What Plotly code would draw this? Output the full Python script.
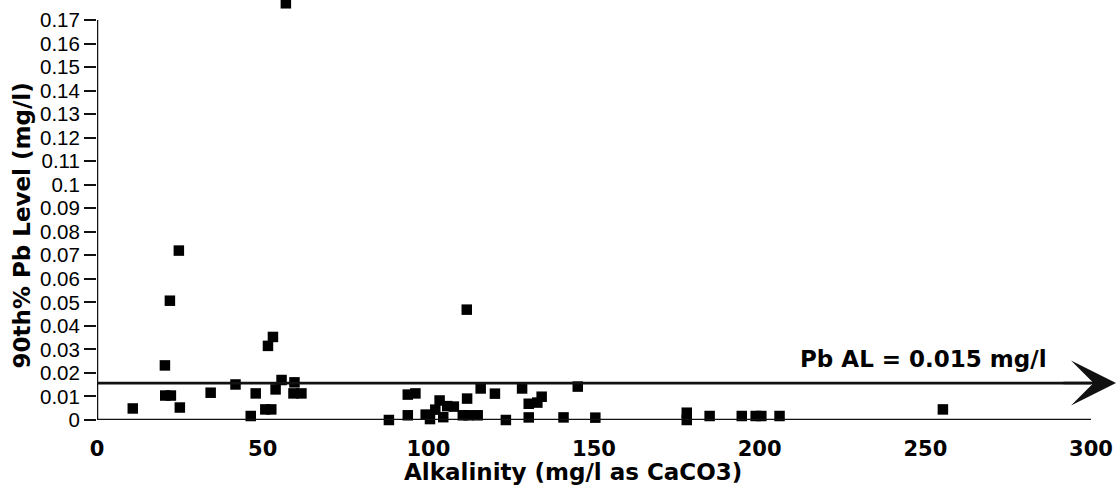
import plotly.graph_objects as go

# ---- data ----
alkalinity = [
    10.8, 20.5, 20.6, 22.3, 25.0, 34.3, 41.8, 46.4, 47.9, 50.8, 52.6, 51.6, 53.1,
    53.9, 55.7, 59.6, 59.3, 61.7, 24.7, 22.0, 57.0,
    111.6, 88.1, 93.8, 96.1, 93.8, 99.2, 100.5, 102.1, 103.4, 104.5, 105.7, 107.7,
    110.4, 112.1, 114.9, 111.7, 115.8, 120.1, 123.4, 128.3, 130.3, 132.9, 134.2,
    130.3, 140.8, 145.1, 150.4,
    178.0, 178.0, 184.9, 194.6, 198.8, 200.5, 206.0, 255.3,
]
pb_90th = [
    0.0049, 0.0232, 0.0104, 0.0104, 0.0053, 0.0116, 0.0151, 0.0017, 0.0113, 0.0045,
    0.0045, 0.0315, 0.0353, 0.0130, 0.0170, 0.0160, 0.0113, 0.0113, 0.0720, 0.0507,
    0.1771,
    0.0469, 0.0, 0.0108, 0.0113, 0.0020, 0.0023, 0.0004, 0.0044, 0.0083, 0.0012,
    0.0059, 0.0057, 0.0020, 0.0020, 0.0020, 0.0091, 0.0134, 0.0112, 0.0, 0.0134,
    0.0069, 0.0074, 0.0099, 0.0011, 0.0011, 0.0142, 0.0010,
    0.0031, 0.0, 0.0017, 0.0017, 0.0017, 0.0017, 0.0017, 0.0045,
]

x_tick_vals = [0, 50, 100, 150, 200, 250, 300]
x_tick_text = ["0", "50", "100", "150", "200", "250", "300"]
y_tick_vals = [0, 0.01, 0.02, 0.03, 0.04, 0.05, 0.06, 0.07, 0.08, 0.09,
               0.10, 0.11, 0.12, 0.13, 0.14, 0.15, 0.16, 0.17]
y_tick_text = ["0", "0.01", "0.02", "0.03", "0.04", "0.05", "0.06", "0.07", "0.08",
               "0.09", "0.1", "0.11", "0.12", "0.13", "0.14", "0.15", "0.16", "0.17"]

action_level_drawn = 0.0157
action_level_label = "Pb AL = 0.015 mg/l"
x_title = "Alkalinity (mg/l as CaCO3)"
y_title = "90th% Pb Level (mg/l)"

X_RANGE = [0, 300]
Y_RANGE = [0, 0.1785]

INK = "#111111"
TICK = "#333333"
BOLD = "DejaVu Sans"


def bare_axis(**kw):
    base = dict(showticklabels=False, showline=False, showgrid=False, zeroline=False,
                tickmode="array")
    base.update(kw)
    return base


fig = go.Figure()
fig.add_trace(go.Scatter(
    x=alkalinity, y=pb_90th, mode="markers",
    marker=dict(symbol="square", size=10.5, color="black", line=dict(width=0)),
    cliponaxis=False, showlegend=False, hoverinfo="x+y",
))

fig.update_layout(
    width=1117, height=491,
    margin=dict(l=97, r=26, t=0, b=71),
    paper_bgcolor="white", plot_bgcolor="white",
    showlegend=False,
    xaxis=dict(
        range=X_RANGE, tickmode="array", tickvals=x_tick_vals, ticktext=x_tick_text,
        ticks="outside", ticklen=10, tickwidth=1.5, tickcolor="rgba(0,0,0,0)",
        showline=False, showgrid=False, zeroline=False,
        tickfont=dict(family=BOLD, size=21, color="black", weight="bold"),
    ),
    xaxis2=bare_axis(range=X_RANGE, overlaying="x", anchor="y", side="bottom",
                     tickvals=x_tick_vals[1:], ticks="outside", ticklen=10,
                     tickwidth=1.5, tickcolor=TICK),
    xaxis3=bare_axis(range=X_RANGE, overlaying="x", anchor="y", side="bottom",
                     tickvals=x_tick_vals[1:], ticks="inside", ticklen=9,
                     tickwidth=1.5, tickcolor=TICK),
    yaxis=dict(
        range=Y_RANGE, tickmode="array", tickvals=y_tick_vals, ticktext=y_tick_text,
        ticks="outside", ticklen=12, tickwidth=2, tickcolor=INK,
        showline=False, showgrid=False, zeroline=False,
        tickfont=dict(family="Liberation Sans", size=20.5, color="black"),
    ),
    yaxis2=bare_axis(range=Y_RANGE, overlaying="y", anchor="x", side="left",
                     tickvals=y_tick_vals, ticks="inside", ticklen=3,
                     tickwidth=2, tickcolor=INK),
)

# axis lines (y axis stops at the last tick, x axis slightly past 300)
fig.add_shape(type="line", xref="x", yref="y", x0=0, x1=0, y0=0, y1=y_tick_vals[-1],
              line=dict(color=INK, width=2.5))
fig.add_shape(type="line", xref="x", yref="y", x0=0, x1=302.3, y0=0, y1=0,
              line=dict(color=INK, width=2.5))
# action level line
fig.add_shape(type="line", xref="x", yref="y", x0=0, x1=303, y0=action_level_drawn,
              y1=action_level_drawn, line=dict(color=INK, width=2.8))

# arrow head at the end of the action-level line
fig.add_annotation(
    xref="paper", yref="y", x=1.0312, y=action_level_drawn,
    text="", showarrow=True, axref="pixel", ayref="pixel", ax=-60, ay=0,
    arrowhead=3, arrowsize=3.0, arrowwidth=2.5, arrowcolor=INK,
    standoff=0, startstandoff=0,
)
fig.add_annotation(
    xref="paper", yref="y", x=(923 - 97) / 994, y=0.026,
    text=action_level_label, showarrow=False, xanchor="center", yanchor="middle",
    font=dict(family=BOLD, size=23, color="black", weight="bold"),
)
fig.add_annotation(
    xref="paper", yref="paper", x=(572.5 - 97) / 994, y=-0.1245,
    text=x_title, showarrow=False, xanchor="center", yanchor="middle",
    font=dict(family=BOLD, size=23, color="black", weight="bold"),
)
fig.add_annotation(
    xref="paper", yref="paper", x=(21 - 97) / 994, y=(420 - 225.5) / 420,
    text=y_title, showarrow=False, textangle=-90, xanchor="center", yanchor="middle",
    font=dict(family=BOLD, size=23, color="black", weight="bold"),
)

fig.write_html("out.html")
